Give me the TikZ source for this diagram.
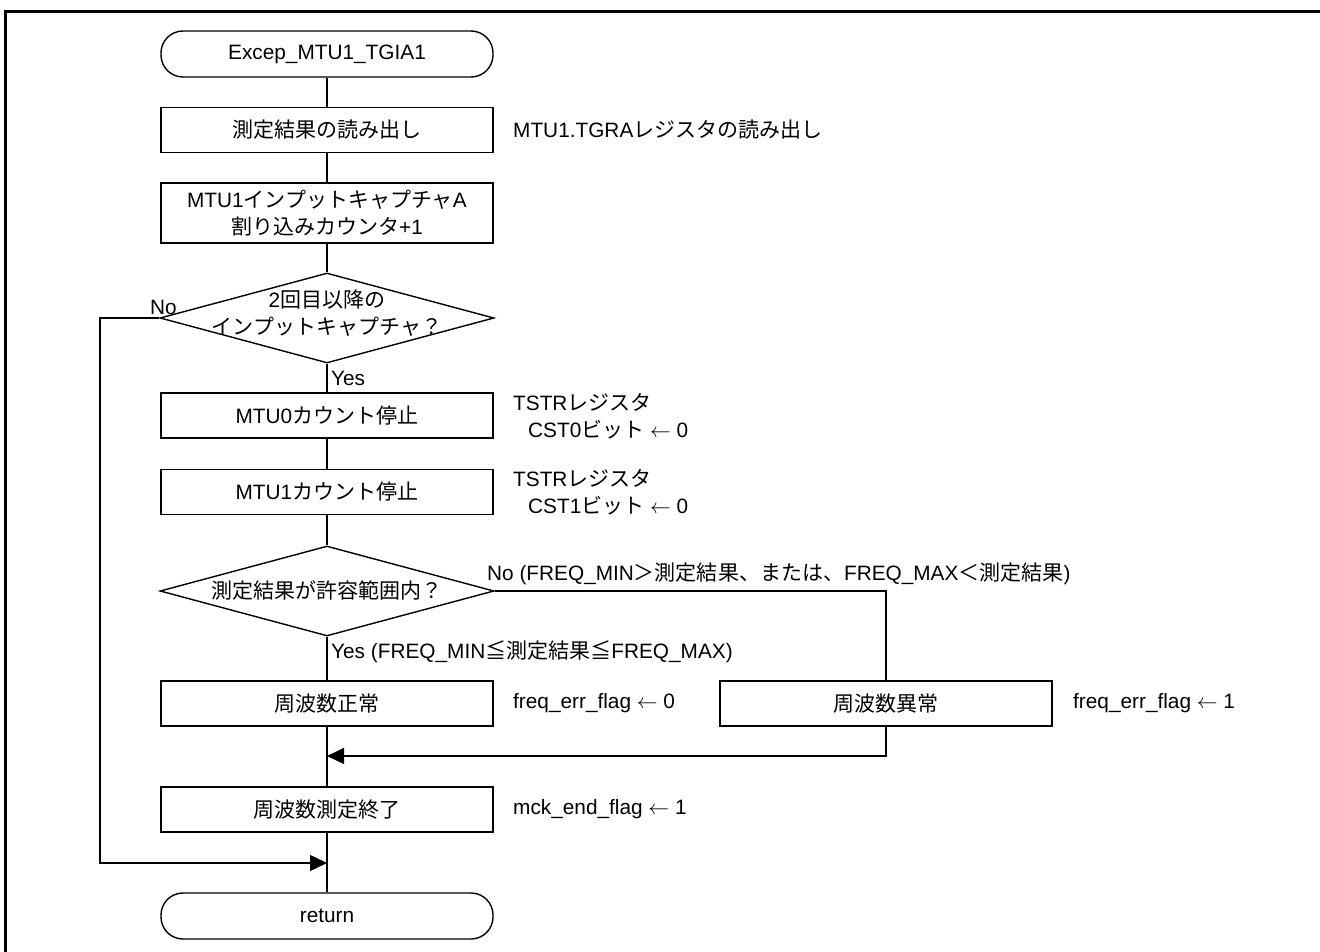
\documentclass[tikz,border=0pt]{standalone}
\usepackage{fontspec}
\setmainfont{Liberation Sans}
\newfontfamily\jpfont[Scale=1.01]{Noto Sans CJK JP}
\newcommand\J[1]{{\jpfont #1}}
\newcommand\la{$\leftarrow$}
\usetikzlibrary{shapes.geometric,arrows.meta}
\begin{document}
\begin{tikzpicture}[x=1pt,y=-1pt,
  every node/.style={font=\fontsize{20.8}{27}\selectfont, inner sep=0pt},
  box/.style={draw, line width=1.4pt, minimum width=332pt, minimum height=45pt, align=center},
  term/.style={box, minimum height=46pt, rounded corners=22pt},
  dia/.style={draw, line width=1.4pt, shape=diamond, minimum width=334pt, minimum height=90pt},
  side/.style={anchor=west, align=left},
  conn/.style={line width=1.4pt},
  arr/.style={conn, -{Triangle[length=17pt,width=16pt]}}
]
\useasboundingbox (0,0) rectangle (1320,952);
\draw[line width=3pt] (5,960) -- (5,12) -- (1330,12);

% main column
\node[term] (start) at (327,54) {Excep\_MTU1\_TGIA1};
\node[box] (b1) at (327,130) {\J{測定結果の読み出し}};
\node[box, minimum height=60pt] (b2) at (327,213) {MTU1\J{インプットキャプチャ}A\\\J{割り込みカウンタ}+1};
\node[dia] (d1) at (327,318) {};
\node[align=center] (d1t) at (327,313) {2\J{回目以降の}\\\J{インプットキャプチャ？}};
\node[box] (m0) at (327,415.5) {MTU0\J{カウント停止}};
\node[box] (m1) at (327,492) {MTU1\J{カウント停止}};
\node[dia] (d2) at (327,591) {};
\node (d2t) at (327,591) {\J{測定結果が許容範囲内？}};
\node[box] (ok) at (327,703.5) {\J{周波数正常}};
\node[box] (ng) at (886,703.5) {\J{周波数異常}};
\node[box] (fin) at (327,809.5) {\J{周波数測定終了}};
\node[term] (ret) at (327,916) {return};

% side notes
\node[side] (l1) at (513,130) {MTU1.TGRA\J{レジスタの読み出し}};
\node[side] (l2) at (513,416) {TSTR\J{レジスタ}\\\hspace*{15pt}CST0\J{ビット} \la\ 0};
\node[side] (l3) at (513,492) {TSTR\J{レジスタ}\\\hspace*{15pt}CST1\J{ビット} \la\ 0};
\node[side] (l4) at (513,703.5) {freq\_err\_flag \la\ 0};
\node[side] (l5) at (1073,703.5) {freq\_err\_flag \la\ 1};
\node[side] (l6) at (513,809.5) {mck\_end\_flag \la\ 1};

% branch labels
\node[anchor=west] (no1) at (150,307) {No};
\node[anchor=west] (yes1) at (331,378) {Yes};
\node[anchor=west] (no2) at (487,574) {No (FREQ\_MIN\J{＞測定結果、または、}FREQ\_MAX\J{＜測定結果})};
\node[anchor=west] (yes2) at (331,652) {Yes (FREQ\_MIN\J{≦測定結果≦}FREQ\_MAX)};

% connectors
\draw[conn] (start) -- (b1);
\draw[conn] (b1) -- (b2);
\draw[conn] (b2) -- (d1);
\draw[conn] (d1.south) -- (m0);
\draw[conn] (m0) -- (m1);
\draw[conn] (m1) -- (d2);
\draw[conn] (d2.south) -- (ok);
\draw[conn] (ok) -- (fin);
\draw[conn] (fin) -- (ret);
\draw[conn] (d2.east) -| (ng.north);
\coordinate (mrg) at (327,756);
\draw[arr] (ng.south) |- (mrg);
\coordinate (lpc) at (100,863);
\coordinate (lpj) at (327,863);
\draw[arr] (d1.west) -| (lpc) -- (lpj);
\end{tikzpicture}
\end{document}
